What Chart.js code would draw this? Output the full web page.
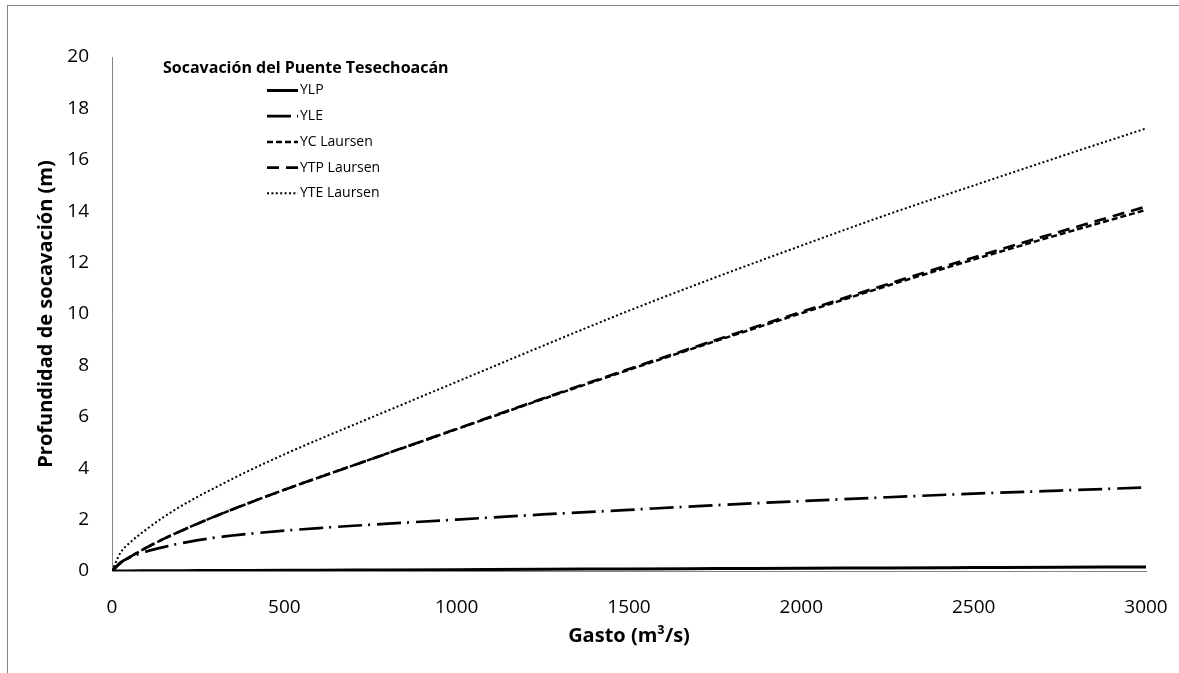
<!DOCTYPE html>
<html>
<head>
<meta charset="utf-8">
<script src="https://cdn.jsdelivr.net/npm/chart.js@4/dist/chart.umd.min.js"></script>
<style>
  html, body { margin: 0; padding: 0; background: #fff; overflow: hidden; }
  #wrap { position: relative; width: 1179px; height: 673px; }
</style>
</head>
<body>
<div id="wrap"><canvas id="c" width="1179" height="673"></canvas></div>
<script>
// Gasto (m3/s)
const gasto = [0, 25, 50, 100, 150, 200, 250, 300, 400, 500, 600, 700, 800, 1000, 1250, 1500, 1750, 2000, 2250, 2500, 2750, 3000];
// Profundidad de socavación (m)
const YLP  = [0, 0.002, 0.004, 0.006, 0.009, 0.012, 0.015, 0.018, 0.023, 0.028, 0.033, 0.038, 0.043, 0.053, 0.066, 0.08, 0.093, 0.106, 0.12, 0.133, 0.146, 0.16];
const YLE  = [0, 0.34, 0.52, 0.76, 0.93, 1.08, 1.2, 1.3, 1.45, 1.57, 1.67, 1.76, 1.84, 2.0, 2.2, 2.38, 2.56, 2.72, 2.87, 3.01, 3.13, 3.25];
const YC   = [0, 0.31, 0.53, 0.91, 1.25, 1.56, 1.85, 2.13, 2.66, 3.16, 3.64, 4.11, 4.58, 5.52, 6.69, 7.83, 8.94, 10.03, 11.1, 12.12, 13.1, 14.05];
const YTP  = [0, 0.31, 0.53, 0.91, 1.25, 1.56, 1.85, 2.13, 2.66, 3.16, 3.64, 4.11, 4.58, 5.53, 6.71, 7.86, 8.98, 10.08, 11.16, 12.2, 13.2, 14.18];
const YTE  = [0, 0.72, 1.08, 1.62, 2.1, 2.52, 2.9, 3.25, 3.92, 4.54, 5.12, 5.68, 6.24, 7.36, 8.76, 10.13, 11.42, 12.66, 13.87, 15.0, 16.12, 17.22];
const seriesNames = ['YLP', 'YLE', 'YC Laursen', 'YTP Laursen', 'YTE Laursen'];
const xTicks = [0, 500, 1000, 1500, 2000, 2500, 3000];
const yTicks = [0, 2, 4, 6, 8, 10, 12, 14, 16, 18, 20];
const legendTitle = 'Socavación del Puente Tesechoacán';

const styles = [
  { width: 3,   dash: [] },
  { width: 2.7, dash: [24, 6, 2, 7] },
  { width: 2.5, dash: [6, 3] },
  { width: 2.7, dash: [12, 7] },
  { width: 2,   dash: [2, 2.4] }
];
const allSeries = [YLP, YLE, YC, YTP, YTE];

const datasets = allSeries.map((s, i) => ({
  label: seriesNames[i],
  data: gasto.map((g, k) => ({ x: g, y: s[k] })),
  borderColor: '#000',
  borderWidth: styles[i].width,
  borderDash: styles[i].dash,
  pointRadius: 0,
  fill: false,
  cubicInterpolationMode: 'monotone',
  borderCapStyle: 'butt'
}));

const FONT = '"Open Sans", Lato, sans-serif';

const frame = {
  id: 'frame',
  beforeDraw(chart) {
    const ctx = chart.ctx;
    ctx.save();
    ctx.strokeStyle = '#868686';
    ctx.lineWidth = 1;
    ctx.strokeRect(7.5, 5.5, 3000, 3000);
    ctx.restore();
  }
};

const customLegend = {
  id: 'customLegend',
  afterDraw(chart) {
    const ctx = chart.ctx;
    const a = chart.chartArea;
    ctx.save();
    ctx.fillStyle = '#000';
    ctx.textBaseline = 'middle';
    ctx.textAlign = 'left';
    ctx.font = 'bold 16px ' + FONT;
    ctx.fillText(legendTitle, a.left + 51, 68);
    ctx.font = '14px ' + FONT;
    seriesNames.forEach((n, i) => {
      const y = 90.5 + i * 25.7;
      ctx.strokeStyle = '#000';
      ctx.lineWidth = styles[i].width;
      ctx.setLineDash(styles[i].dash);
      ctx.beginPath();
      ctx.moveTo(a.left + 155, y);
      ctx.lineTo(a.left + 186, y);
      ctx.stroke();
      ctx.setLineDash([]);
      ctx.fillText(n, a.left + 188, y);
    });
    ctx.restore();
  }
};

new Chart(document.getElementById('c'), {
  type: 'line',
  data: { datasets },
  options: {
    responsive: false,
    animation: false,
    layout: { padding: { left: 8, top: 57, right: 33, bottom: 0 } },
    plugins: { legend: { display: false }, tooltip: { enabled: false } },
    scales: {
      x: {
        type: 'linear', min: 0, max: 3000,
        afterFit(s) { s.height = 102; s.paddingLeft = 0; s.paddingRight = 0; },
        afterBuildTicks(s) { s.ticks = xTicks.map(v => ({ value: v })); },
        grid: { display: false, drawTicks: false, tickLength: 0 },
        border: { display: true, color: '#868686', width: 1 },
        ticks: { color: '#000', font: { family: FONT, size: 19 }, padding: 25, maxRotation: 0, callback: v => String(v) },
        title: { display: true, text: 'Gasto (m³/s)', color: '#000', font: { family: FONT, size: 20, weight: 'bold' }, padding: { top: 0, bottom: 25 } }
      },
      y: {
        type: 'linear', min: 0, max: 20,
        afterFit(s) { s.width = 104; s.paddingTop = 0; s.paddingBottom = 0; },
        afterBuildTicks(s) { s.ticks = yTicks.map(v => ({ value: v })); },
        grid: { display: false, drawTicks: false, tickLength: 0 },
        border: { display: true, color: '#868686', width: 1 },
        ticks: { color: '#000', font: { family: FONT, size: 19 }, padding: 23, callback: v => String(v) },
        title: { display: true, text: 'Profundidad de socavación (m)', color: '#000', font: { family: FONT, size: 20, weight: 'bold' }, padding: { top: 26, bottom: 0 } }
      }
    }
  },
  plugins: [frame, customLegend]
});
</script>
</body>
</html>
